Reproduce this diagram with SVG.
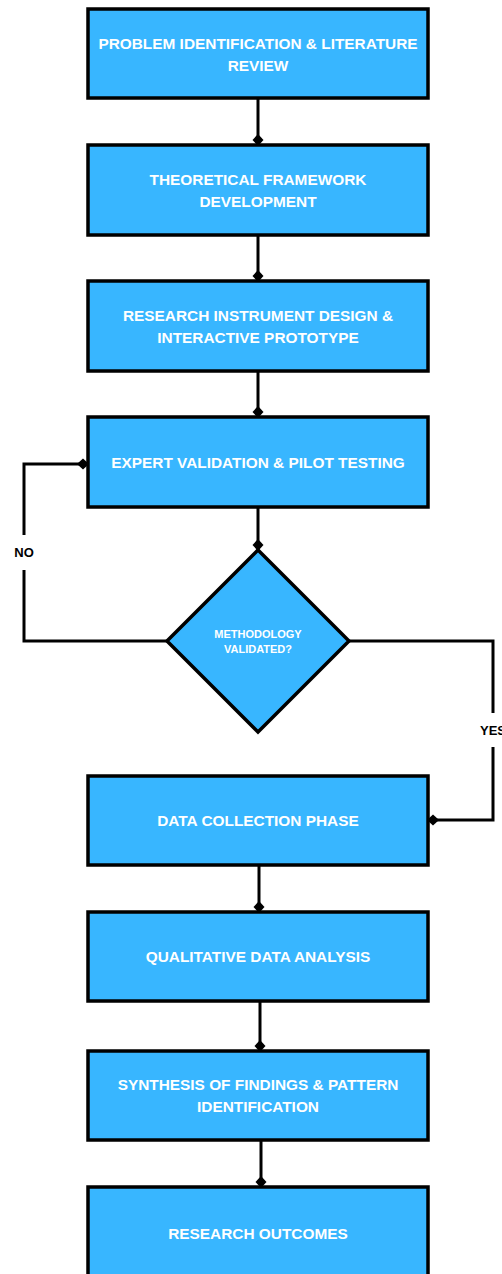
<svg xmlns="http://www.w3.org/2000/svg" width="502" height="1274" viewBox="0 0 502 1274">
<style>
.box{fill:#38B6FF;stroke:#000;stroke-width:3.5}
.t{font-family:"Liberation Sans",Arial,sans-serif;font-weight:bold;font-size:15.4px;fill:#fff;text-anchor:middle}
.ts{font-family:"Liberation Sans",Arial,sans-serif;font-weight:bold;font-size:11px;fill:#fff;text-anchor:middle}
.lbl{font-family:"Liberation Sans",Arial,sans-serif;font-weight:bold;font-size:13px;fill:#000}
.c{fill:none;stroke:#000;stroke-width:3;marker-end:url(#dm)}
.p{fill:none;stroke:#000;stroke-width:3}
</style>
<defs>
<marker id="dm" viewBox="0 0 12 12" refX="11" refY="6" markerWidth="12" markerHeight="12" markerUnits="userSpaceOnUse" orient="auto">
<path d="M0 6 L6 0.5 L12 6 L6 11.5 Z" fill="#000"/>
</marker>
</defs>
<rect width="502" height="1274" fill="#fff"/>
<g id="connectors">
<path class="c" d="M258 98 V145"/>
<path class="c" d="M258 235 V281"/>
<path class="c" d="M258 371 V417"/>
<path class="c" d="M258 507 V550"/>
<path class="p" d="M167 641 H24 V570"/>
<path class="c" d="M24 535 V464 H88"/>
<path class="p" d="M349 641 H493 V713"/>
<path class="c" d="M493 747 V820 H428"/>
<path class="c" d="M259 865 V912"/>
<path class="c" d="M260 1001 V1051"/>
<path class="c" d="M261 1140 V1187"/>
<text class="lbl" x="24" y="557" text-anchor="middle">NO</text>
<text class="lbl" x="480" y="735">YES</text>
</g>
<g id="n1"><rect class="box" x="88" y="9" width="340" height="89"/><text class="t" x="258" y="49">PROBLEM IDENTIFICATION &amp; LITERATURE</text><text class="t" x="258" y="71">REVIEW</text></g>
<g id="n2"><rect class="box" x="88" y="145" width="340" height="90"/><text class="t" x="258" y="185">THEORETICAL FRAMEWORK</text><text class="t" x="258" y="207">DEVELOPMENT</text></g>
<g id="n3"><rect class="box" x="88" y="281" width="340" height="90"/><text class="t" x="258" y="321">RESEARCH INSTRUMENT DESIGN &amp;</text><text class="t" x="258" y="343">INTERACTIVE PROTOTYPE</text></g>
<g id="n4"><rect class="box" x="88" y="417" width="340" height="90"/><text class="t" x="258" y="468">EXPERT VALIDATION &amp; PILOT TESTING</text></g>
<g id="n5"><polygon class="box" points="258,550 349,641 258,732 167,641"/><text class="ts" x="258" y="638">METHODOLOGY</text><text class="ts" x="258" y="653">VALIDATED?</text></g>
<g id="n6"><rect class="box" x="88" y="776" width="340" height="89"/><text class="t" x="258" y="826">DATA COLLECTION PHASE</text></g>
<g id="n7"><rect class="box" x="88" y="912" width="340" height="89"/><text class="t" x="258" y="962">QUALITATIVE DATA ANALYSIS</text></g>
<g id="n8"><rect class="box" x="88" y="1051" width="340" height="89"/><text class="t" x="258" y="1090">SYNTHESIS OF FINDINGS &amp; PATTERN</text><text class="t" x="258" y="1112">IDENTIFICATION</text></g>
<g id="n9"><rect class="box" x="88" y="1187" width="340" height="90"/><text class="t" x="258" y="1239">RESEARCH OUTCOMES</text></g>
</svg>
